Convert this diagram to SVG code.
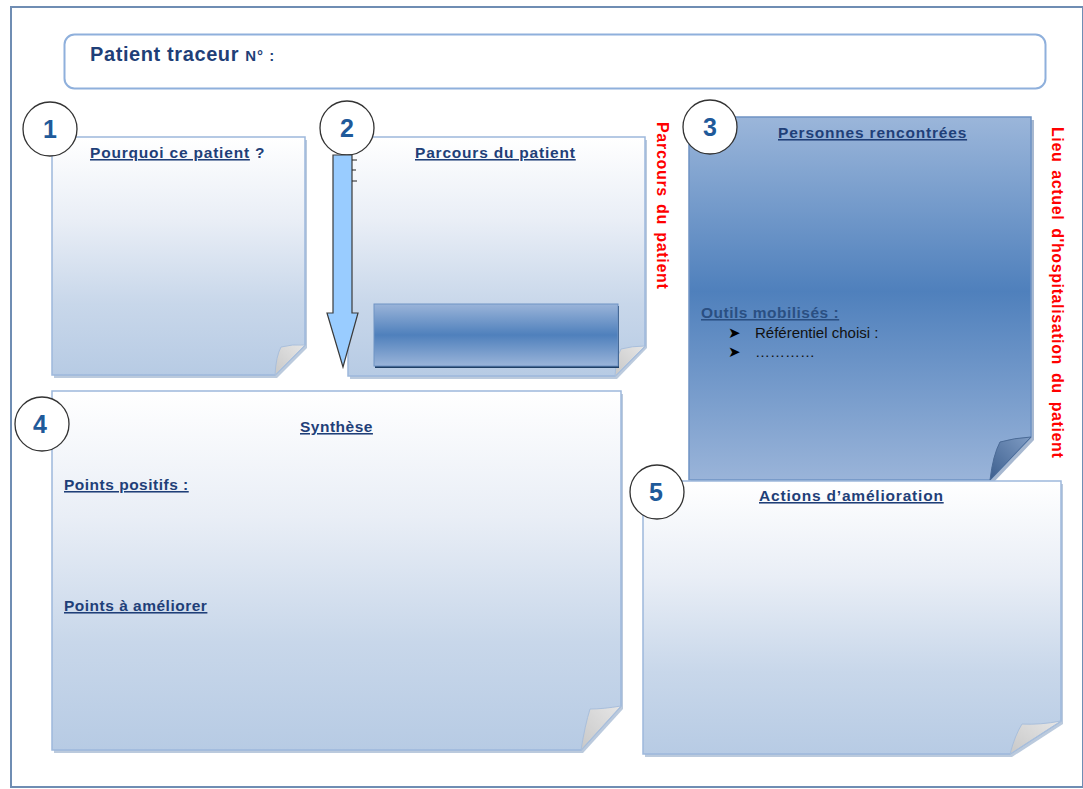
<svg xmlns="http://www.w3.org/2000/svg" width="1083" height="789" viewBox="0 0 1083 789">
<defs>
<linearGradient id="gNote" x1="0" y1="0" x2="0" y2="1">
<stop offset="0" stop-color="#ffffff"/>
<stop offset="0.35" stop-color="#e9eef6"/>
<stop offset="0.7" stop-color="#c8d7ea"/>
<stop offset="1" stop-color="#b7cbe4"/>
</linearGradient>
<linearGradient id="gDark" x1="0" y1="0" x2="0" y2="1">
<stop offset="0" stop-color="#9bb6da"/>
<stop offset="0.48" stop-color="#4f80bc"/>
<stop offset="1" stop-color="#9ab4d9"/>
</linearGradient>
<linearGradient id="gBar" x1="0" y1="0" x2="0" y2="1">
<stop offset="0" stop-color="#9ab4d9"/>
<stop offset="0.5" stop-color="#4f80bc"/>
<stop offset="1" stop-color="#9ab4d9"/>
</linearGradient>
<linearGradient id="gFold" x1="0" y1="1" x2="1" y2="0">
<stop offset="0" stop-color="#c8c8c8"/>
<stop offset="1" stop-color="#e6e6e6"/>
</linearGradient>
<linearGradient id="gFoldDark" x1="0" y1="1" x2="1" y2="0">
<stop offset="0" stop-color="#3d5f8e"/>
<stop offset="1" stop-color="#7f9cc4"/>
</linearGradient>
</defs>
<style>
.note{stroke:#9db8dc;stroke-width:1.5}
.shadow{fill:#8ea6c6;opacity:0.6}
.fold{fill:url(#gFold);stroke:#a9bfdc;stroke-width:1}
.num{fill:#ffffff;stroke:#333333;stroke-width:1.3}
.numt{font-family:"Liberation Sans",Arial,sans-serif;font-size:25px;font-weight:bold;fill:#1f5a9a;text-anchor:middle}
.ttl{font-family:"Liberation Sans",Arial,sans-serif;font-size:15.5px;font-weight:bold;fill:#1f3f78;letter-spacing:0.8px}
.ttl4{font-family:"Liberation Sans",Arial,sans-serif;font-size:15.5px;font-weight:bold;fill:#1f3f78;letter-spacing:0.5px}
.u{text-decoration:underline}
.red{font-family:"Liberation Sans",Arial,sans-serif;font-size:16px;font-weight:bold;fill:#ff0000}
.body{font-family:"Liberation Sans",Arial,sans-serif;font-size:15px;fill:#111111}
</style>
<rect x="0" y="0" width="1083" height="789" fill="#ffffff"/>
<rect id="frame" x="11" y="7" width="1072" height="780" fill="none" stroke="#6f8db3" stroke-width="2"/>

<g id="header">
<rect x="64.5" y="34.5" width="981" height="54" rx="10" fill="#ffffff" stroke="#8fb0dc" stroke-width="2"/>
<text x="90" y="61" font-family="Liberation Sans, Arial, sans-serif" font-weight="bold" fill="#1f3f78"><tspan font-size="20px" letter-spacing="0.6px">Patient traceur </tspan><tspan font-size="15px" letter-spacing="1px">N° :</tspan></text>
</g>

<g id="note1">
<path class="shadow" d="M54,140 H307 V348 L277,378 H54 Z"/>
<path class="note" fill="url(#gNote)" d="M52,137 H305 V345 L275,375 H52 Z"/>
<path class="fold" d="M275,375 Q276,356 281,347 Q292,344 305,345 Z"/>
<circle class="num" cx="50" cy="129" r="27"/>
<text class="numt" x="50" y="138">1</text>
<text class="ttl" x="90" y="158" letter-spacing="1.4px"><tspan class="u">Pourquoi ce patient</tspan> ?</text>
</g>

<g id="note2">
<path class="shadow" d="M350,140 H647 V348 L617,379 H350 Z"/>
<path class="note" fill="url(#gNote)" d="M348,137 H645 V346 L615,376 H348 Z"/>
<path class="fold" d="M615,376 Q616,358 621,349 Q632,346 645,346 Z"/>
<rect x="375" y="306" width="244" height="62" fill="#1f3f66"/>
<rect x="374" y="304" width="244" height="62" fill="url(#gBar)" stroke="#6f93c4" stroke-width="1"/>
<circle class="num" cx="347" cy="128" r="27"/>
<text class="numt" x="347" y="137">2</text>
<text class="ttl" x="415" y="158"><tspan class="u">Parcours du patient</tspan></text>
</g>

<g id="note3">
<path fill="#6d89b0" opacity="0.6" d="M691,120 H1034 V440 L993,483 H691 Z"/>
<path fill="url(#gDark)" stroke="#6f93c4" stroke-width="1.5" d="M689,117 H1031 V437 L990,480 H689 Z"/>
<path fill="url(#gFoldDark)" stroke="#4a6a96" stroke-width="1" d="M990,480 Q993,455 1000,442 Q1014,438 1031,437 Z"/>
<circle class="num" cx="710" cy="127" r="27"/>
<text class="numt" x="710" y="136">3</text>
<text class="ttl" x="778" y="138"><tspan class="u">Personnes rencontrées</tspan></text>
<text class="ttl4" x="701" y="318" style="fill:#2a4f82"><tspan class="u">Outils mobilisés :</tspan></text>
<text x="728" y="338" font-family="DejaVu Sans, sans-serif" font-size="15px" fill="#000000">➤</text>
<text x="728" y="357" font-family="DejaVu Sans, sans-serif" font-size="15px" fill="#000000">➤</text>
<text class="body" x="755" y="338">Référentiel choisi :</text>
<text class="body" x="755" y="357">…………</text>
</g>

<g id="note4">
<path class="shadow" d="M54,394 H623 V709 L583,753 H54 Z"/>
<path class="note" fill="url(#gNote)" d="M52,391 H621 V706 L581,750 H52 Z"/>
<path class="fold" d="M581,750 Q585,725 590,709 Q603,709 621,706 Z"/>
<circle class="num" cx="42" cy="424" r="27"/>
<text class="numt" x="40" y="433">4</text>
<text class="ttl4" x="300" y="432"><tspan class="u">Synthèse</tspan></text>
<text class="ttl4" x="64" y="490"><tspan class="u">Points positifs :</tspan></text>
<text class="ttl4" x="64" y="611"><tspan class="u">Points à améliorer</tspan></text>
</g>

<g id="note5">
<path class="shadow" d="M645,484 H1063 V724 L1012,757 H645 Z"/>
<path class="note" fill="url(#gNote)" d="M643,481 H1061 V721 L1010,754 H643 Z"/>
<path class="fold" d="M1010,754 Q1015,735 1022,724 Q1040,725 1061,721 Z"/>
<circle class="num" cx="657" cy="492" r="27"/>
<text class="numt" x="656" y="501">5</text>
<text class="ttl" x="759" y="501"><tspan class="u">Actions d’amélioration</tspan></text>
</g>

<g id="connectors">
<path d="M333,155 V313 H327 L343,367 L358,313 H352 V155 Z" fill="#99ccff" stroke="#3a3a3a" stroke-width="1.2"/>
<path d="M352,160 H357 M352,170 H356 M352,181 H357" stroke="#222222" stroke-width="1"/>
</g>

<g id="sidelabels">
<text class="red" transform="translate(657,122) rotate(90)" word-spacing="2px" letter-spacing="0.7px">Parcours du patient</text>
<text class="red" transform="translate(1052,127) rotate(90)" word-spacing="3px" letter-spacing="0.6px">Lieu actuel d'hospitalisation du patient</text>
</g>
</svg>
